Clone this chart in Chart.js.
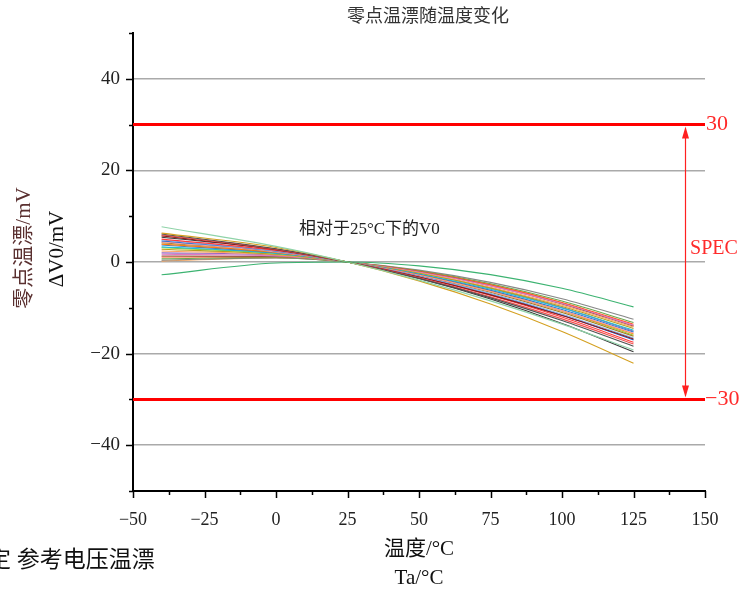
<!DOCTYPE html>
<html>
<head>
<meta charset="utf-8">
<script src="https://cdn.jsdelivr.net/npm/chart.js@4/dist/chart.umd.min.js"></script>
<style>
  body { margin: 0; background: #fff; }
  #wrap { width: 740px; height: 591px; }
</style>
</head>
<body>
<div id="wrap"><canvas id="driftChart" width="740" height="591"></canvas></div>
<script>
// temperature points (°C) and zero drift of each unit relative to 25°C (mV)
const temps = [-40, 0, 25, 50, 75, 100, 125];
const driftCurves = [
    [-2.8, -0.22, 0, -0.85, -2.76, -5.75, -9.8],
    [7.7, 3.41, 0, -3.96, -8.49, -13.56, -19.2],
    [6.3, 3.18, 0, -4.12, -9.17, -15.17, -22.1],
    [6.1, 2.89, 0, -3.58, -7.83, -12.78, -18.4],
    [5.9, 2.80, 0, -3.47, -7.61, -12.42, -17.9],
    [5.7, 2.68, 0, -3.29, -7.18, -11.69, -16.8],
    [5.4, 2.76, 0, -3.62, -8.09, -13.42, -19.6],
    [5.0, 2.52, 0, -3.26, -7.26, -12.01, -17.5],
    [4.8, 2.40, 0, -3.10, -6.90, -11.40, -16.6],
    [4.6, 2.37, 0, -3.12, -7.00, -11.62, -17.0],
    [4.4, 2.22, 0, -2.88, -6.43, -10.63, -15.5],
    [4.2, 2.21, 0, -2.94, -6.62, -11.04, -16.2],
    [3.9, 2.09, 0, -2.82, -6.38, -10.67, -15.7],
    [3.7, 2.01, 0, -2.73, -6.19, -10.38, -15.3],
    [3.3, 1.86, 0, -2.61, -5.96, -10.06, -14.9],
    [3.1, 1.87, 0, -2.72, -6.30, -10.72, -16.0],
    [2.8, 1.70, 0, -2.47, -5.71, -9.72, -14.5],
    [2.4, 1.56, 0, -2.36, -5.51, -9.46, -14.2],
    [2.0, 1.50, 0, -2.41, -5.73, -9.96, -15.1],
    [1.7, 1.33, 0, -2.18, -5.21, -9.08, -13.8],
    [1.3, 1.23, 0, -2.14, -5.18, -9.14, -14.0],
    [1.1, 1.14, 0, -2.05, -5.00, -8.85, -13.6],
    [0.7, 1.00, 0, -1.92, -4.76, -8.52, -13.2],
    [0.4, 0.87, 0, -1.77, -4.45, -8.02, -12.5],
    [0.2, 0.90, 0, -1.93, -4.89, -8.88, -13.9]
];
const curveColors = [
    '#3cb371', '#8fd3a8', '#d4a020', '#505050', '#f05050',
    '#8b1a1a', '#3a3a3a', '#ff3b3b', '#7fb0e8', '#1f5fd0',
    '#f4a0a0', '#a0781e', '#ff7f0e', '#2b7bd6', '#20c0d0',
    '#9acd32', '#b5a020', '#ffa060', '#9467bd', '#e377c2',
    '#8c564b', '#ff5a1f', '#6aa84f', '#888888', '#f4a460'
];
const specLimits = [30, -30];
const specRange = [-50, 150];
const specArrowAt = 143;
const noteAt = [8, 7.0];

const serif = '"Liberation Serif", "Noto Sans CJK SC", serif';
const fmt = v => v < 0 ? '\u2212' + Math.abs(v) : String(v);

const datasets = driftCurves.map((vals, i) => ({
    data: temps.map((t, j) => ({ x: t, y: vals[j] })),
    borderColor: curveColors[i],
    borderWidth: 1.1,
    pointRadius: 0,
    cubicInterpolationMode: 'monotone'
}));
specLimits.forEach(lim => {
    datasets.push({
        data: specRange.map(t => ({ x: t, y: lim })),
        borderColor: '#ff0000',
        borderWidth: 3,
        pointRadius: 0
    });
});

const extras = {
    id: 'extras',
    afterDraw(chart) {
        const { ctx, chartArea: area, scales: { x, y } } = chart;
        ctx.save();

        // tick marks
        ctx.strokeStyle = '#000';
        ctx.lineWidth = 1.5;
        ctx.beginPath();
        for (let v = -50; v <= 50; v += 10) {
            const py = Math.round(y.getPixelForValue(v)) + 0.5;
            const len = v % 20 === 0 ? 7 : 4;
            ctx.moveTo(area.left - len, py);
            ctx.lineTo(area.left, py);
        }
        for (let v = -50; v <= 150; v += 12.5) {
            const px = Math.round(x.getPixelForValue(v)) + 0.5;
            const len = v % 25 === 0 ? 7 : 4;
            ctx.moveTo(px, area.bottom);
            ctx.lineTo(px, area.bottom + len);
        }
        ctx.stroke();

        // spec arrow
        const ax = Math.round(x.getPixelForValue(specArrowAt)) + 0.5;
        const yTop = y.getPixelForValue(specLimits[0]) + 2;
        const yBot = y.getPixelForValue(specLimits[1]) - 2;
        ctx.strokeStyle = '#ff2020';
        ctx.fillStyle = '#ff2020';
        ctx.lineWidth = 1.2;
        ctx.beginPath();
        ctx.moveTo(ax, yTop + 8);
        ctx.lineTo(ax, yBot - 8);
        ctx.stroke();
        ctx.beginPath();
        ctx.moveTo(ax, yTop);
        ctx.lineTo(ax - 3.5, yTop + 12);
        ctx.lineTo(ax + 3.5, yTop + 12);
        ctx.closePath();
        ctx.fill();
        ctx.beginPath();
        ctx.moveTo(ax, yBot);
        ctx.lineTo(ax - 3.5, yBot - 12);
        ctx.lineTo(ax + 3.5, yBot - 12);
        ctx.closePath();
        ctx.fill();

        // spec labels
        ctx.fillStyle = '#ff2a2a';
        ctx.font = '22px ' + serif;
        ctx.textAlign = 'left';
        ctx.textBaseline = 'middle';
        ctx.fillText(fmt(specLimits[0]), area.right + 1, y.getPixelForValue(specLimits[0]));
        ctx.fillText(fmt(specLimits[1]), area.right, y.getPixelForValue(specLimits[1]));
        ctx.font = '20px ' + serif;
        ctx.textAlign = 'center';
        ctx.fillText('SPEC', 714, y.getPixelForValue(3));

        // note in plot
        ctx.fillStyle = '#222';
        ctx.font = '17px ' + serif;
        ctx.textAlign = 'left';
        ctx.fillText('相对于25°C下的V0', x.getPixelForValue(noteAt[0]), y.getPixelForValue(noteAt[1]));

        // title
        ctx.fillStyle = '#333';
        ctx.font = '18px ' + serif;
        ctx.textAlign = 'center';
        ctx.fillText('零点温漂随温度变化', 428, 17);

        // x axis title
        ctx.fillStyle = '#111';
        ctx.font = '21px ' + serif;
        ctx.fillText('温度/°C', 419, 549);
        ctx.fillText('Ta/°C', 419, 578);

        // caption fragment at the bottom left
        ctx.font = '23px ' + serif;
        ctx.textAlign = 'left';
        ctx.fillText('定 参考电压温漂', -12, 561);

        // y axis title
        ctx.save();
        ctx.translate(24, 248);
        ctx.rotate(-Math.PI / 2);
        ctx.font = '21px ' + serif;
        ctx.textAlign = 'center';
        ctx.fillStyle = '#5a3030';
        ctx.fillText('零点温漂/mV', 0, 0);
        ctx.restore();
        ctx.save();
        ctx.translate(57, 249);
        ctx.rotate(-Math.PI / 2);
        ctx.font = '21px ' + serif;
        ctx.textAlign = 'center';
        ctx.fillStyle = '#111';
        ctx.fillText('ΔV0/mV', 0, 0);
        ctx.restore();

        ctx.restore();
    }
};

new Chart(document.getElementById('driftChart').getContext('2d'), {
    type: 'line',
    data: { datasets: datasets },
    options: {
        responsive: false,
        animation: false,
        devicePixelRatio: 1,
        layout: { padding: { top: 33, right: 35, bottom: 0, left: 0 } },
        plugins: {
            legend: { display: false },
            tooltip: { enabled: false }
        },
        scales: {
            x: {
                type: 'linear',
                min: -50,
                max: 150,
                afterFit: scale => { scale.height = 100; },
                ticks: {
                    stepSize: 12.5,
                    autoSkip: false,
                    maxRotation: 0,
                    padding: 10,
                    color: '#222',
                    font: { family: serif, size: 18 },
                    callback: v => v % 25 === 0 ? fmt(v) : ''
                },
                grid: { display: false },
                border: { display: true, color: '#000', width: 2 }
            },
            y: {
                type: 'linear',
                min: -50,
                max: 50,
                afterFit: scale => { scale.width = 133; },
                ticks: {
                    stepSize: 10,
                    autoSkip: false,
                    padding: 13,
                    color: '#222',
                    font: { family: serif, size: 19 },
                    callback: v => (v % 20 === 0 && Math.abs(v) <= 40) ? fmt(v) : ''
                },
                grid: {
                    drawTicks: false,
                    lineWidth: 1.5,
                    color: c => (c.tick && c.tick.value % 20 === 0 && Math.abs(c.tick.value) <= 40) ? '#aaaaaa' : 'rgba(0,0,0,0)'
                },
                border: { display: true, color: '#000', width: 2 }
            }
        }
    },
    plugins: [extras]
});
</script>
</body>
</html>
